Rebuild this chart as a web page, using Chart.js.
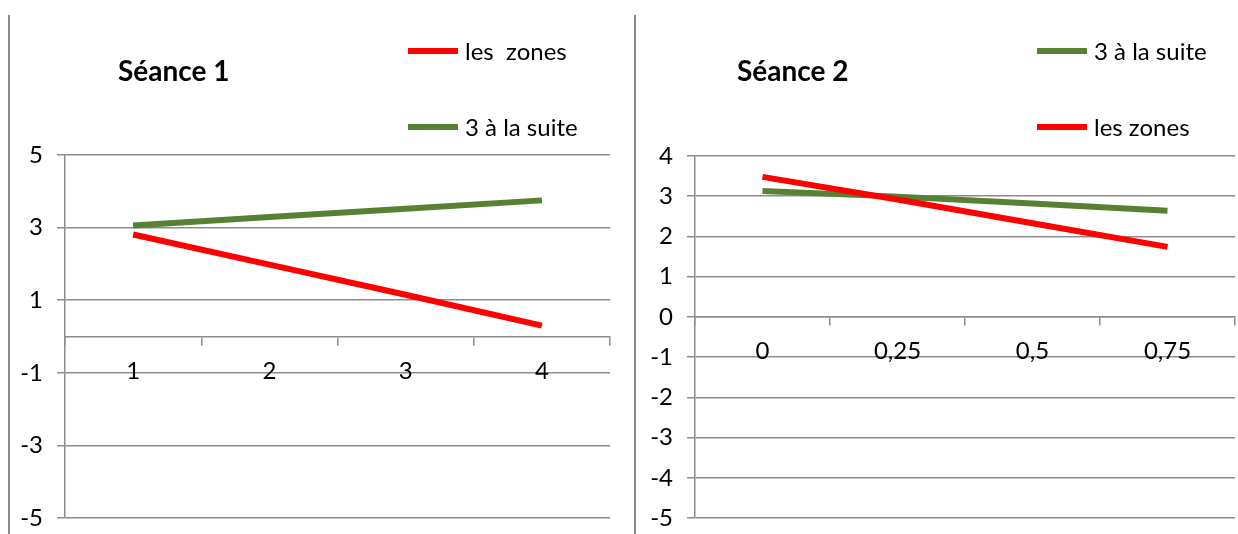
<!DOCTYPE html>
<html>
<head>
<meta charset="utf-8">
<script src="https://cdn.jsdelivr.net/npm/chart.js@4"></script>
<style>
  html, body { margin: 0; padding: 0; background: #fff; }
  body { width: 1238px; height: 534px; position: relative; overflow: hidden; }
  .panel { position: absolute; top: 0; height: 534px; }
  .sep { position: absolute; top: 15px; bottom: 0; width: 2px; background: #8c8c8c; }
</style>
</head>
<body>
<div class="sep" style="left:8px"></div>
<div class="sep" style="left:634px"></div>
<div class="panel" style="left:0; width:620px"><canvas id="seance1"></canvas></div>
<div class="panel" style="left:620px; width:618px"><canvas id="seance2"></canvas></div>
<script>
// Séance 1
const seance1Labels = ['1', '2', '3', '4'];
const seance1Zones = [2.81, 1.98, 1.15, 0.3];
const seance1Suite = [3.06, 3.29, 3.52, 3.75];

// Séance 2
const seance2Labels = ['0', '0,25', '0,5', '0,75'];
const seance2Suite = [3.13, 2.99, 2.82, 2.64];
const seance2Zones = [3.48, 2.92, 2.33, 1.74];

const RED = '#ff0000';
const GREEN = '#558232';
const GRID = '#8c8c8c';
const FONT = 'Lato, "Open Sans", sans-serif';

// titre + légende dessinés à la main (positions fixes comme dans l'original)
const decorPlugin = {
    id: 'decor',
    afterDraw(chart, args, opts) {
        const ctx = chart.ctx;
        ctx.save();
        ctx.fillStyle = '#000';
        ctx.font = 'bold 28px ' + FONT;
        ctx.textBaseline = 'middle';
        ctx.fillText(opts.title, opts.titleX, 72);
        ctx.font = '24px ' + FONT;
        opts.items.forEach(item => {
            ctx.strokeStyle = item.color;
            ctx.lineWidth = 6;
            ctx.beginPath();
            ctx.moveTo(opts.legendX, item.y);
            ctx.lineTo(opts.legendX + 50, item.y);
            ctx.stroke();
            ctx.fillText(item.label, opts.legendX + 57, item.y + 1);
        });
        ctx.restore();
    }
};

function makeChart(id, labels, datasets, yOpts, layout, decor) {
    const ctx = document.getElementById(id).getContext('2d');
    return new Chart(ctx, {
        type: 'line',
        data: {
            labels: labels,
            datasets: datasets.map(ds => ({
                label: ds.label,
                data: ds.data,
                borderColor: ds.color,
                borderWidth: 6,
                pointRadius: 0,
                tension: 0,
                fill: false
            }))
        },
        options: {
            responsive: false,
            animation: false,
            layout: { padding: layout.padding },
            plugins: {
                legend: { display: false },
                tooltip: { enabled: false },
                decor: decor
            },
            scales: {
                x: {
                    type: 'category',
                    position: { y: 0 },
                    offset: true,
                    afterFit: scale => {
                        scale.height = 0;
                        scale.paddingLeft = 0;
                        scale.paddingRight = 0;
                    },
                    border: { color: GRID, width: 1.5 },
                    grid: { offset: true, drawOnChartArea: false, tickLength: 8, color: GRID, lineWidth: 1.5 },
                    ticks: { color: '#000', padding: 12, font: { family: FONT, size: 24 } }
                },
                y: {
                    min: yOpts.min,
                    max: yOpts.max,
                    afterFit: scale => {
                        scale.width = layout.yWidth;
                        scale.paddingTop = 0;
                        scale.paddingBottom = 0;
                    },
                    border: { color: GRID, width: 1.5 },
                    grid: { color: GRID, lineWidth: 1.5, tickLength: 8 },
                    ticks: { stepSize: yOpts.step, color: '#000', padding: 14, font: { family: FONT, size: 24 } }
                }
            }
        },
        plugins: [decorPlugin]
    });
}

const c1 = document.getElementById('seance1');
c1.width = 620; c1.height = 534;
const c2 = document.getElementById('seance2');
c2.width = 618; c2.height = 534;

makeChart('seance1', seance1Labels,
    [
        { label: 'les  zones', data: seance1Zones, color: RED },
        { label: '3 à la suite', data: seance1Suite, color: GREEN }
    ],
    { min: -5, max: 5, step: 2 },
    { padding: { top: 155, bottom: 16, left: 0, right: 10 }, yWidth: 65 },
    {
        title: 'Séance 1', titleX: 118, legendX: 408,
        items: [
            { label: 'les  zones', color: RED, y: 51 },
            { label: '3 à la suite', color: GREEN, y: 127 }
        ]
    }
);

makeChart('seance2', seance2Labels,
    [
        { label: 'les zones', data: seance2Zones, color: RED },
        { label: '3 à la suite', data: seance2Suite, color: GREEN }
    ],
    { min: -5, max: 4, step: 1 },
    { padding: { top: 156, bottom: 16, left: 0, right: 3 }, yWidth: 75 },
    {
        title: 'Séance 2', titleX: 117, legendX: 417,
        items: [
            { label: '3 à la suite', color: GREEN, y: 51 },
            { label: 'les zones', color: RED, y: 127 }
        ]
    }
);
</script>
</body>
</html>
